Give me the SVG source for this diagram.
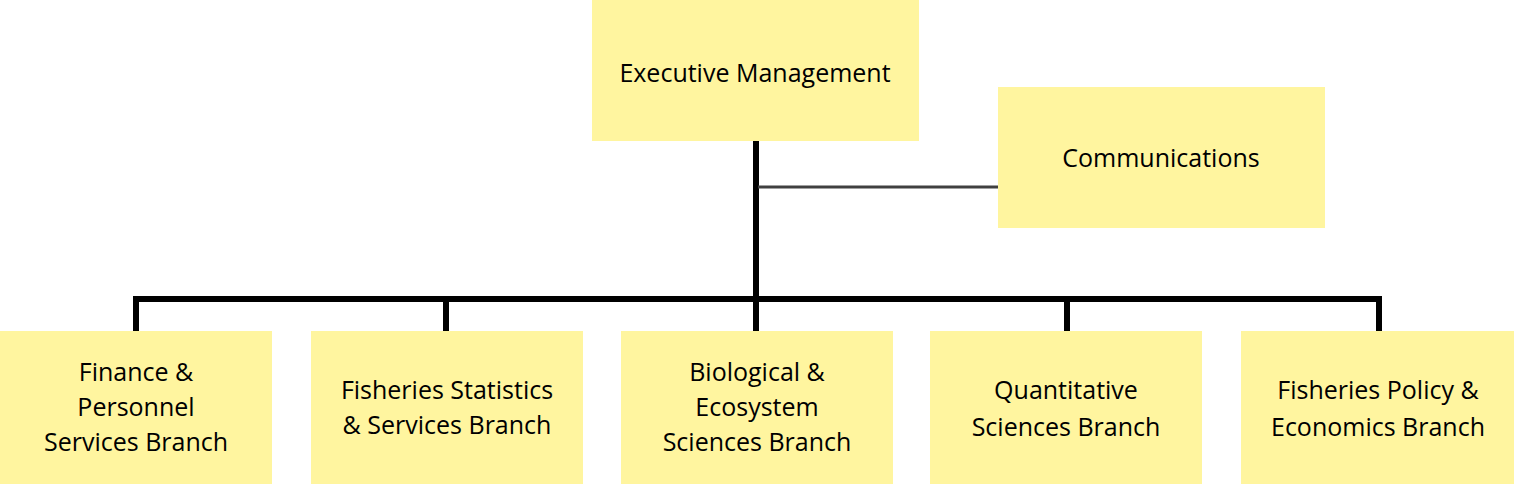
<svg xmlns="http://www.w3.org/2000/svg" width="1514" height="487" viewBox="0 0 1514 487">
<style>
.box{fill:#fff59f}
text{font-family:"Open Sans","Noto Sans",sans-serif;font-size:25px;fill:#000;text-anchor:middle}
.main{stroke:#000;stroke-width:6;fill:none}
.side{stroke:#404040;stroke-width:3;fill:none}
</style>
<rect width="1514" height="487" fill="#fff"/>
<g id="connectors">
<path class="main" d="M756 141V300M136 331V299H1379V331M446 299V331M756 299V331M1067 299V331"/>
<path class="side" d="M758 187H998"/>
</g>
<g id="exec"><rect class="box" x="592" y="0" width="327" height="141"/><text x="755" y="82">Executive Management</text></g>
<g id="comm"><rect class="box" x="998" y="87" width="327" height="141"/><text x="1161" y="167">Communications</text></g>
<g id="finance"><rect class="box" x="0" y="331" width="272" height="153"/><text x="136" y="381">Finance &amp;</text><text x="136" y="416">Personnel</text><text x="136" y="451">Services Branch</text></g>
<g id="stats"><rect class="box" x="311" y="331" width="272" height="153"/><text x="447" y="399">Fisheries Statistics</text><text x="447" y="434">&amp; Services Branch</text></g>
<g id="bio"><rect class="box" x="621" y="331" width="272" height="153"/><text x="757" y="381">Biological &amp;</text><text x="757" y="416">Ecosystem</text><text x="757" y="451">Sciences Branch</text></g>
<g id="quant"><rect class="box" x="930" y="331" width="272" height="153"/><text x="1066" y="399">Quantitative</text><text x="1066" y="436">Sciences Branch</text></g>
<g id="policy"><rect class="box" x="1241" y="331" width="273" height="153"/><text x="1378" y="399">Fisheries Policy &amp;</text><text x="1378" y="436">Economics Branch</text></g>
</svg>
